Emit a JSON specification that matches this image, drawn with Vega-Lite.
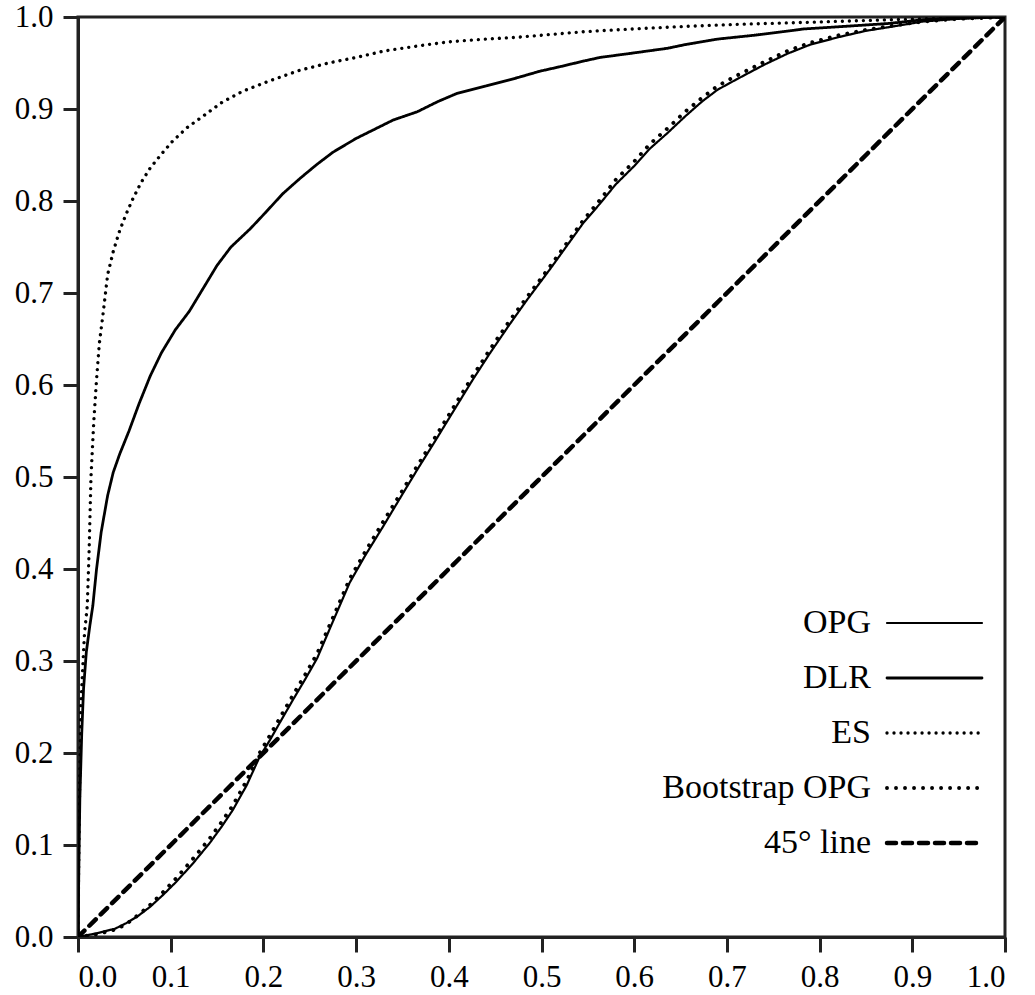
{
  "$schema": "https://vega.github.io/schema/vega-lite/v6.json",
  "width": 927,
  "height": 920,
  "autosize": {"type": "none"},
  "padding": {"left": 78, "top": 17, "right": 30, "bottom": 58},
  "background": "white",
  "config": {
    "view": {"stroke": "#222", "strokeWidth": 3},
    "font": "Liberation Serif",
    "axis": {
      "labelFont": "Liberation Serif", "labelFontSize": 31, "labelColor": "black",
      "tickSize": 15, "tickWidth": 3, "tickColor": "#222",
      "domainColor": "#222", "domainWidth": 3, "grid": false, "labelPadding": 10, "title": null
    },
    "legend": {
      "labelFont": "Liberation Serif", "labelFontSize": 34, "labelColor": "black"
    }
  },
  "data": {"values": [
    {"series":"45° line","x":0,"y":0},{"series":"45° line","x":1,"y":1},
    {"series":"OPG","x":0,"y":0},{"series":"OPG","x":0.02,"y":0.004},{"series":"OPG","x":0.04,"y":0.009},{"series":"OPG","x":0.052,"y":0.015},{"series":"OPG","x":0.065,"y":0.023},{"series":"OPG","x":0.078,"y":0.033},{"series":"OPG","x":0.092,"y":0.046},{"series":"OPG","x":0.106,"y":0.06},{"series":"OPG","x":0.124,"y":0.08},{"series":"OPG","x":0.142,"y":0.102},{"series":"OPG","x":0.155,"y":0.12},{"series":"OPG","x":0.167,"y":0.138},{"series":"OPG","x":0.182,"y":0.165},{"series":"OPG","x":0.196,"y":0.196},{"series":"OPG","x":0.207,"y":0.214},{"series":"OPG","x":0.22,"y":0.237},{"series":"OPG","x":0.232,"y":0.258},{"series":"OPG","x":0.245,"y":0.28},{"series":"OPG","x":0.258,"y":0.303},{"series":"OPG","x":0.275,"y":0.343},{"series":"OPG","x":0.293,"y":0.385},{"series":"OPG","x":0.31,"y":0.415},{"series":"OPG","x":0.329,"y":0.446},{"series":"OPG","x":0.348,"y":0.478},{"series":"OPG","x":0.366,"y":0.508},{"series":"OPG","x":0.384,"y":0.537},{"series":"OPG","x":0.401,"y":0.565},{"series":"OPG","x":0.426,"y":0.606},{"series":"OPG","x":0.444,"y":0.634},{"series":"OPG","x":0.465,"y":0.665},{"series":"OPG","x":0.484,"y":0.692},{"series":"OPG","x":0.51,"y":0.727},{"series":"OPG","x":0.53,"y":0.755},{"series":"OPG","x":0.545,"y":0.776},{"series":"OPG","x":0.563,"y":0.797},{"series":"OPG","x":0.58,"y":0.818},{"series":"OPG","x":0.6,"y":0.838},{"series":"OPG","x":0.617,"y":0.857},{"series":"OPG","x":0.636,"y":0.874},{"series":"OPG","x":0.655,"y":0.892},{"series":"OPG","x":0.673,"y":0.908},{"series":"OPG","x":0.69,"y":0.921},{"series":"OPG","x":0.71,"y":0.932},{"series":"OPG","x":0.74,"y":0.948},{"series":"OPG","x":0.765,"y":0.96},{"series":"OPG","x":0.79,"y":0.97},{"series":"OPG","x":0.82,"y":0.978},{"series":"OPG","x":0.85,"y":0.985},{"series":"OPG","x":0.875,"y":0.989},{"series":"OPG","x":0.911,"y":0.995},{"series":"OPG","x":0.95,"y":0.998},{"series":"OPG","x":1,"y":1},
    {"series":"Bootstrap OPG","x":0,"y":0},{"series":"Bootstrap OPG","x":0.02,"y":0.003},{"series":"Bootstrap OPG","x":0.04,"y":0.008},{"series":"Bootstrap OPG","x":0.052,"y":0.014},{"series":"Bootstrap OPG","x":0.065,"y":0.024},{"series":"Bootstrap OPG","x":0.078,"y":0.035},{"series":"Bootstrap OPG","x":0.092,"y":0.049},{"series":"Bootstrap OPG","x":0.106,"y":0.064},{"series":"Bootstrap OPG","x":0.124,"y":0.085},{"series":"Bootstrap OPG","x":0.142,"y":0.107},{"series":"Bootstrap OPG","x":0.155,"y":0.125},{"series":"Bootstrap OPG","x":0.167,"y":0.143},{"series":"Bootstrap OPG","x":0.182,"y":0.17},{"series":"Bootstrap OPG","x":0.196,"y":0.2},{"series":"Bootstrap OPG","x":0.207,"y":0.219},{"series":"Bootstrap OPG","x":0.22,"y":0.242},{"series":"Bootstrap OPG","x":0.232,"y":0.263},{"series":"Bootstrap OPG","x":0.245,"y":0.285},{"series":"Bootstrap OPG","x":0.258,"y":0.308},{"series":"Bootstrap OPG","x":0.275,"y":0.347},{"series":"Bootstrap OPG","x":0.293,"y":0.389},{"series":"Bootstrap OPG","x":0.31,"y":0.419},{"series":"Bootstrap OPG","x":0.329,"y":0.451},{"series":"Bootstrap OPG","x":0.348,"y":0.482},{"series":"Bootstrap OPG","x":0.366,"y":0.512},{"series":"Bootstrap OPG","x":0.384,"y":0.541},{"series":"Bootstrap OPG","x":0.401,"y":0.569},{"series":"Bootstrap OPG","x":0.426,"y":0.61},{"series":"Bootstrap OPG","x":0.444,"y":0.638},{"series":"Bootstrap OPG","x":0.465,"y":0.669},{"series":"Bootstrap OPG","x":0.484,"y":0.695},{"series":"Bootstrap OPG","x":0.51,"y":0.73},{"series":"Bootstrap OPG","x":0.53,"y":0.758},{"series":"Bootstrap OPG","x":0.545,"y":0.779},{"series":"Bootstrap OPG","x":0.563,"y":0.801},{"series":"Bootstrap OPG","x":0.58,"y":0.823},{"series":"Bootstrap OPG","x":0.6,"y":0.843},{"series":"Bootstrap OPG","x":0.617,"y":0.862},{"series":"Bootstrap OPG","x":0.636,"y":0.879},{"series":"Bootstrap OPG","x":0.655,"y":0.897},{"series":"Bootstrap OPG","x":0.673,"y":0.912},{"series":"Bootstrap OPG","x":0.69,"y":0.925},{"series":"Bootstrap OPG","x":0.71,"y":0.936},{"series":"Bootstrap OPG","x":0.74,"y":0.951},{"series":"Bootstrap OPG","x":0.765,"y":0.963},{"series":"Bootstrap OPG","x":0.79,"y":0.972},{"series":"Bootstrap OPG","x":0.82,"y":0.98},{"series":"Bootstrap OPG","x":0.85,"y":0.986},{"series":"Bootstrap OPG","x":0.875,"y":0.99},{"series":"Bootstrap OPG","x":0.911,"y":0.995},{"series":"Bootstrap OPG","x":0.95,"y":0.998},{"series":"Bootstrap OPG","x":1,"y":1},
    {"series":"DLR","x":0,"y":0},{"series":"DLR","x":0.001,"y":0.08},{"series":"DLR","x":0.002,"y":0.15},{"series":"DLR","x":0.004,"y":0.22},{"series":"DLR","x":0.006,"y":0.27},{"series":"DLR","x":0.009,"y":0.31},{"series":"DLR","x":0.013,"y":0.34},{"series":"DLR","x":0.016,"y":0.36},{"series":"DLR","x":0.02,"y":0.4},{"series":"DLR","x":0.025,"y":0.44},{"series":"DLR","x":0.032,"y":0.48},{"series":"DLR","x":0.038,"y":0.505},{"series":"DLR","x":0.045,"y":0.525},{"series":"DLR","x":0.055,"y":0.55},{"series":"DLR","x":0.066,"y":0.58},{"series":"DLR","x":0.078,"y":0.61},{"series":"DLR","x":0.09,"y":0.635},{"series":"DLR","x":0.105,"y":0.66},{"series":"DLR","x":0.12,"y":0.68},{"series":"DLR","x":0.135,"y":0.705},{"series":"DLR","x":0.15,"y":0.73},{"series":"DLR","x":0.165,"y":0.75},{"series":"DLR","x":0.186,"y":0.77},{"series":"DLR","x":0.2,"y":0.785},{"series":"DLR","x":0.221,"y":0.808},{"series":"DLR","x":0.24,"y":0.825},{"series":"DLR","x":0.258,"y":0.84},{"series":"DLR","x":0.275,"y":0.853},{"series":"DLR","x":0.3,"y":0.868},{"series":"DLR","x":0.318,"y":0.877},{"series":"DLR","x":0.34,"y":0.888},{"series":"DLR","x":0.366,"y":0.897},{"series":"DLR","x":0.388,"y":0.908},{"series":"DLR","x":0.409,"y":0.917},{"series":"DLR","x":0.44,"y":0.925},{"series":"DLR","x":0.474,"y":0.934},{"series":"DLR","x":0.498,"y":0.941},{"series":"DLR","x":0.52,"y":0.946},{"series":"DLR","x":0.545,"y":0.952},{"series":"DLR","x":0.563,"y":0.956},{"series":"DLR","x":0.6,"y":0.961},{"series":"DLR","x":0.636,"y":0.966},{"series":"DLR","x":0.655,"y":0.97},{"series":"DLR","x":0.69,"y":0.976},{"series":"DLR","x":0.728,"y":0.98},{"series":"DLR","x":0.76,"y":0.984},{"series":"DLR","x":0.783,"y":0.987},{"series":"DLR","x":0.83,"y":0.99},{"series":"DLR","x":0.875,"y":0.993},{"series":"DLR","x":0.911,"y":0.997},{"series":"DLR","x":0.95,"y":0.999},{"series":"DLR","x":1,"y":1},
    {"series":"ES","x":0,"y":0},{"series":"ES","x":0.001,"y":0.1},{"series":"ES","x":0.002,"y":0.18},{"series":"ES","x":0.003,"y":0.25},{"series":"ES","x":0.005,"y":0.29},{"series":"ES","x":0.007,"y":0.33},{"series":"ES","x":0.01,"y":0.36},{"series":"ES","x":0.012,"y":0.42},{"series":"ES","x":0.014,"y":0.5},{"series":"ES","x":0.017,"y":0.56},{"series":"ES","x":0.02,"y":0.606},{"series":"ES","x":0.023,"y":0.645},{"series":"ES","x":0.027,"y":0.677},{"series":"ES","x":0.032,"y":0.72},{"series":"ES","x":0.038,"y":0.745},{"series":"ES","x":0.045,"y":0.768},{"series":"ES","x":0.052,"y":0.786},{"series":"ES","x":0.059,"y":0.802},{"series":"ES","x":0.068,"y":0.82},{"series":"ES","x":0.078,"y":0.836},{"series":"ES","x":0.09,"y":0.851},{"series":"ES","x":0.102,"y":0.865},{"series":"ES","x":0.118,"y":0.88},{"series":"ES","x":0.136,"y":0.893},{"series":"ES","x":0.155,"y":0.907},{"series":"ES","x":0.177,"y":0.919},{"series":"ES","x":0.205,"y":0.93},{"series":"ES","x":0.239,"y":0.942},{"series":"ES","x":0.27,"y":0.95},{"series":"ES","x":0.3,"y":0.956},{"series":"ES","x":0.33,"y":0.963},{"series":"ES","x":0.37,"y":0.969},{"series":"ES","x":0.4,"y":0.973},{"series":"ES","x":0.44,"y":0.976},{"series":"ES","x":0.474,"y":0.978},{"series":"ES","x":0.51,"y":0.981},{"series":"ES","x":0.545,"y":0.984},{"series":"ES","x":0.58,"y":0.986},{"series":"ES","x":0.617,"y":0.988},{"series":"ES","x":0.66,"y":0.99},{"series":"ES","x":0.71,"y":0.992},{"series":"ES","x":0.78,"y":0.994},{"series":"ES","x":0.875,"y":0.997},{"series":"ES","x":0.95,"y":0.999},{"series":"ES","x":1,"y":1}
  ]},
  "mark": {"type": "line", "color": "black", "strokeCap": "round", "strokeJoin": "round", "clip": true},
  "encoding": {
    "x": {"field": "x", "type": "quantitative", "scale": {"domain": [0, 1], "nice": false},
          "axis": {"values": [0,0.1,0.2,0.3,0.4,0.5,0.6,0.7,0.8,0.9,1], "format": ".1f"}},
    "y": {"field": "y", "type": "quantitative", "scale": {"domain": [0, 1], "nice": false},
          "axis": {"values": [0,0.1,0.2,0.3,0.4,0.5,0.6,0.7,0.8,0.9,1], "format": ".1f"}},
    "detail": {"field": "series", "type": "nominal"},
    "order": {"field": "x", "type": "quantitative"},
    "strokeDash": {"field": "series", "type": "nominal",
      "scale": {"domain": ["OPG", "DLR", "ES", "Bootstrap OPG", "45° line"],
                "range": [[1, 0], [1, 0], [0.01, 7], [0.01, 9], [9, 7]]},
      "legend": {"title": null, "orient": "none", "legendX": 882, "legendY": 589, "padding": 0,
                 "symbolSize": 100, "symbolType": "M-18,0H1", "symbolStrokeColor": "black",
                 "symbolFillColor": "transparent",
                 "labelAlign": "right", "labelOffset": -123, "rowPadding": 21,
                 "labelFontSize": 34, "labelLimit": 400,
                 "encode": {"symbols": {"update": {"strokeCap": {"value": "round"}}}}}},
    "strokeWidth": {"field": "series", "type": "nominal",
      "scale": {"domain": ["OPG", "DLR", "ES", "Bootstrap OPG", "45° line"],
                "range": [2.2, 4.5, 3, 3, 3]},
      "legend": {"title": null, "orient": "none", "legendX": 882, "legendY": 589, "padding": 0,
                 "symbolSize": 100, "symbolType": "M-18,0H1", "symbolStrokeColor": "black",
                 "symbolFillColor": "transparent",
                 "labelAlign": "right", "labelOffset": -123, "rowPadding": 21,
                 "labelFontSize": 34, "labelLimit": 400,
                 "encode": {"symbols": {"update": {"strokeCap": {"value": "round"}}}}}}
  }
}
